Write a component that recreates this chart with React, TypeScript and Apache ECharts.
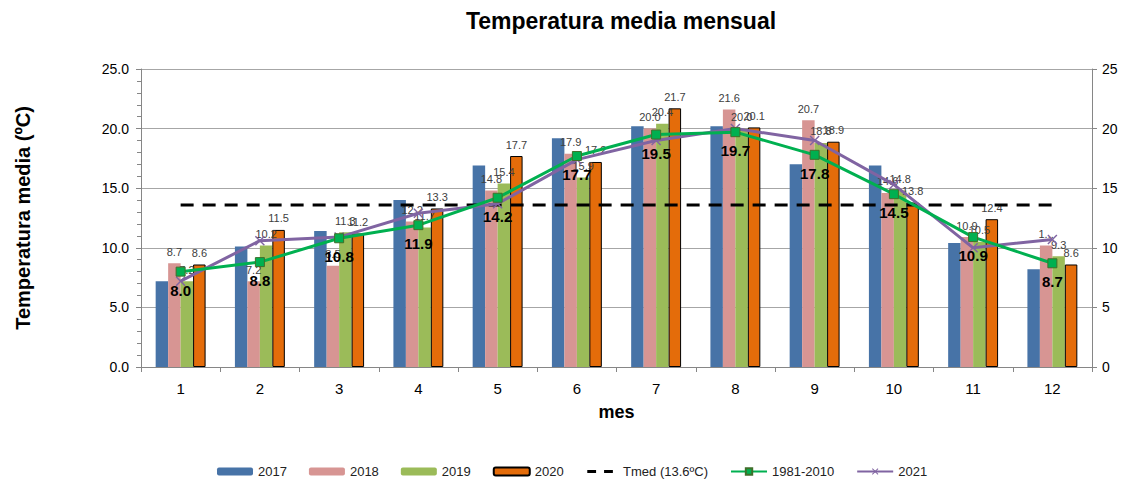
import React, { useEffect, useRef } from "react";
import * as echarts from "echarts";

const months = ["1", "2", "3", "4", "5", "6", "7", "8", "9", "10", "11", "12"];
const y2017 = [7.2, 10.1, 11.4, 14.0, 16.9, 19.2, 20.2, 20.2, 17.0, 16.9, 10.4, 8.2];
const y2018 = [8.7, 7.2, 8.5, 12.2, 14.8, 17.9, 20.0, 21.6, 20.7, 14.6, 10.9, 10.2];
const y2019 = [7.2, 10.2, 11.3, 11.7, 15.4, 15.9, 20.4, 20.0, 18.8, 14.8, 10.5, 9.3];
const y2020 = [8.6, 11.5, 11.2, 13.3, 17.7, 17.2, 21.7, 20.1, 18.9, 13.8, 12.4, 8.6];
const tmed = [13.6, 13.6, 13.6, 13.6, 13.6, 13.6, 13.6, 13.6, 13.6, 13.6, 13.6, 13.6];
const normal19812010 = [8.0, 8.8, 10.8, 11.9, 14.2, 17.7, 19.5, 19.7, 17.8, 14.5, 10.9, 8.7];
const y2021 = [7.2, 10.6, 10.9, 12.9, 13.7, 17.4, 19.0, 20.0, 19.0, 15.3, 10.0, 10.7];
const leftTicks = [0, 5, 10, 15, 20, 25];

const FONT = "'Liberation Sans', Arial, sans-serif";
const X_SYMBOL = "path://M0,1L1,0L5,4L9,0L10,1L6,5L10,9L9,10L5,6L1,10L0,9L4,5Z";
const DASH_ICON = "path://M2,3H13V7H2Z M23,3H34V7H23Z M0,0H0.01V0.01H0Z M36,10H35.99V9.99H36Z";

export default function App() {
  const ref = useRef<HTMLDivElement>(null);
  useEffect(() => {
    if (!ref.current) return;
    const chart = echarts.init(ref.current, null, { renderer: "svg" });
    const smallLabel = {
      show: true,
      position: "top" as const,
      distance: 6,
      fontSize: 11,
      fontFamily: FONT,
      color: "#404040",
    };
    const barBase = { type: "bar" as const, barGap: "0%", barCategoryGap: "37%" };
    chart.setOption({
      animation: false,
      textStyle: { fontFamily: FONT },
      graphic: [
        {
          type: "text",
          x: 621,
          y: 21,
          style: {
            text: "Temperatura media mensual",
            font: `bold 23px ${FONT}`,
            fill: "#000",
            textAlign: "center",
            textVerticalAlign: "middle",
          },
        },
      ],
      grid: { left: 141, right: 34, top: 69, bottom: 112 },
      legend: {
        left: 212,
        top: 460,
        itemWidth: 36,
        itemHeight: 8,
        itemGap: 22,
        textStyle: { fontSize: 13, color: "#222", fontFamily: FONT },
        data: [
          "2017",
          "2018",
          "2019",
          "2020",
          { name: "Tmed (13.6ºC)", icon: DASH_ICON, itemStyle: { color: "#000" } },
          "1981-2010",
          "2021",
        ],
      },
      xAxis: {
        type: "category",
        data: months,
        name: "mes",
        nameLocation: "middle",
        nameGap: 36,
        nameTextStyle: { fontSize: 18, fontWeight: "bold", color: "#000", fontFamily: FONT },
        axisLine: { lineStyle: { color: "#868686" } },
        axisTick: { show: true, alignWithLabel: false, length: 5, lineStyle: { color: "#868686" } },
        axisLabel: { fontSize: 15, color: "#000", margin: 14, fontFamily: FONT },
      },
      yAxis: [
        {
          type: "value",
          min: leftTicks[0],
          max: leftTicks[leftTicks.length - 1],
          interval: 5,
          name: "Temperatura media (ºC)",
          nameLocation: "middle",
          nameGap: 108,
          nameTextStyle: { fontSize: 20, fontWeight: "bold", color: "#000", fontFamily: FONT },
          axisLine: { show: true, lineStyle: { color: "#868686" } },
          axisTick: { show: true, length: 5, lineStyle: { color: "#868686" } },
          minorTick: { show: true, splitNumber: 5, length: 4, lineStyle: { color: "#868686" } },
          axisLabel: {
            fontSize: 14,
            color: "#000",
            margin: 12,
            fontFamily: FONT,
            formatter: (v: number) => v.toFixed(1),
          },
          splitLine: { show: true, lineStyle: { color: "#a6a6a6" } },
        },
        {
          type: "value",
          min: 0,
          max: 25,
          interval: 5,
          position: "right",
          axisLine: { show: true, lineStyle: { color: "#868686" } },
          axisTick: { show: true, length: 5, lineStyle: { color: "#868686" } },
          axisLabel: { fontSize: 14, color: "#000", margin: 10, fontFamily: FONT },
          splitLine: { show: false },
        },
      ],
      series: [
        {
          ...barBase,
          name: "2017",
          data: y2017,
          itemStyle: { color: "#4773a7" },
        },
        {
          ...barBase,
          name: "2018",
          data: y2018,
          itemStyle: { color: "#d79593" },
          label: {
            ...smallLabel,
            formatter: (p: any) => (p.dataIndex === 11 ? "1..." : Number(p.value).toFixed(1)),
          },
        },
        {
          ...barBase,
          name: "2019",
          data: y2019,
          itemStyle: { color: "#9bbb59" },
          label: { ...smallLabel, formatter: (p: any) => Number(p.value).toFixed(1) },
        },
        {
          ...barBase,
          name: "2020",
          data: y2020,
          itemStyle: { color: "#e46c0a", borderColor: "#000", borderWidth: 1 },
          label: { ...smallLabel, formatter: (p: any) => Number(p.value).toFixed(1) },
        },
        {
          type: "line",
          name: "Tmed (13.6ºC)",
          data: tmed,
          symbol: "none",
          itemStyle: { color: "#000" },
          lineStyle: { color: "#000", width: 3, type: [13, 9] },
          z: 3,
        },
        {
          type: "line",
          name: "1981-2010",
          data: normal19812010,
          symbol: "rect",
          symbolSize: 9,
          itemStyle: { color: "#00b050", borderColor: "#3f6f2a", borderWidth: 1 },
          lineStyle: { color: "#00b050", width: 3 },
          label: {
            show: true,
            position: "bottom",
            distance: 6,
            fontSize: 15,
            fontWeight: "bold",
            color: "#000",
            fontFamily: FONT,
            formatter: (p: any) => Number(p.value).toFixed(1),
          },
          z: 5,
        },
        {
          type: "line",
          name: "2021",
          data: y2021,
          symbol: X_SYMBOL,
          symbolSize: 10,
          itemStyle: { color: "#8064a2" },
          lineStyle: { color: "#8064a2", width: 3 },
          z: 4,
        },
      ],
    });
    return () => chart.dispose();
  }, []);
  return <div ref={ref} style={{ width: 1126, height: 479, position: "absolute", left: 0, top: 0 }} />;
}
